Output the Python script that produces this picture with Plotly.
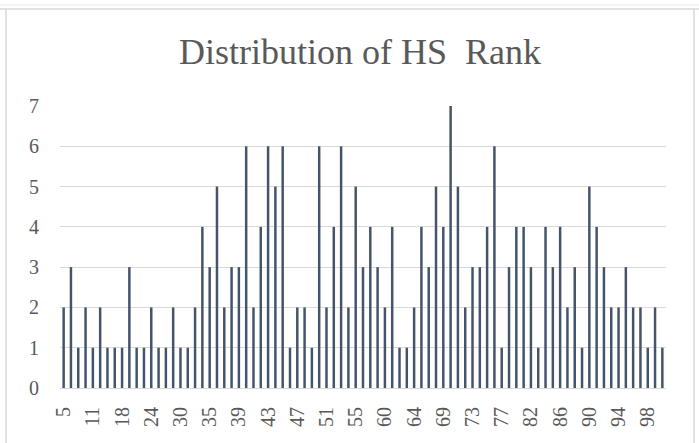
import plotly.graph_objects as go

hs_rank = [5, 6, 8, 9, 11, 13, 15, 16, 18, 19, 21, 22, 24, 25, 27, 28, 30,
           31, 32, 34, 35, 36, 37, 38, 39, 40, 41, 42, 43, 44, 45, 46, 47,
           48, 49, 50, 51, 52, 53, 54, 55, 56, 57, 59, 60, 61, 62, 63, 64,
           65, 66, 68, 69, 70, 71, 72, 73, 74, 75, 76, 77, 78, 80, 81, 82,
           83, 84, 85, 86, 87, 88, 89, 90, 91, 92, 93, 94, 95, 96, 97, 98,
           99, 100]
counts = [2, 3, 1, 2, 1, 2, 1, 1, 1, 3, 1, 1, 2, 1, 1, 2, 1, 1, 2, 4, 3,
          5, 2, 3, 3, 6, 2, 4, 6, 5, 6, 1, 2, 2, 1, 6, 2, 4, 6, 2, 5,
          3, 4, 3, 2, 4, 1, 1, 2, 4, 3, 5, 4, 7, 5, 2, 3, 3, 4, 6, 1, 3,
          4, 4, 3, 1, 4, 3, 4, 2, 3, 1, 5, 4, 3, 2, 2, 3, 2, 2, 1, 2, 1]
tick_labels = [str(v) for v in hs_rank[::4]]
y_ticks = [0, 1, 2, 3, 4, 5, 6, 7]

cats = [str(v) for v in hs_rank]

fig = go.Figure(go.Bar(x=cats, y=counts, marker=dict(color="#44546A", line=dict(width=0))))

W, H = 699, 443
L, R, T, B = 60, 33, 106, 55
pw, ph = W - L - R, H - T - B

def px_x(x):
    return (x - L) / pw

def px_y(y):
    return (H - B - y) / ph

SERIF = "Liberation Serif, DejaVu Serif, serif"

fig.update_layout(
    width=W, height=H,
    margin=dict(l=L, r=R, t=T, b=B, autoexpand=False),
    paper_bgcolor="white", plot_bgcolor="white",
    bargap=0.66,
    showlegend=False,
    font=dict(family=SERIF, color="#595959"),
    title=dict(text="Distribution of HS  Rank", x=360 / W, xanchor="center",
               y=1 - 51 / H, yanchor="middle",
               font=dict(size=36, color="#595959", family=SERIF)),
    xaxis=dict(type="category", tickmode="array", tickvals=tick_labels, ticktext=tick_labels,
               tickangle=-90, tickfont=dict(size=20, color="#595959"),
               showgrid=False, showline=True, linecolor="#d9d9d9", linewidth=1,
               ticks="", ticklen=0, ticklabelstandoff=10, automargin=False),
    yaxis=dict(range=[0, 7], tickvals=y_ticks, tickfont=dict(size=20, color="#595959"),
               showgrid=True, gridcolor="#d9d9d9", gridwidth=1, zeroline=False,
               showline=False, ticks="", ticklabelstandoff=20, automargin=False),
    shapes=[
        dict(type="line", xref="paper", yref="paper", x0=px_x(6), x1=px_x(6), y0=px_y(9), y1=px_y(450),
             line=dict(color="#d9d9d9", width=1.5)),
        dict(type="line", xref="paper", yref="paper", x0=px_x(694), x1=px_x(694), y0=px_y(9), y1=px_y(450),
             line=dict(color="#d9d9d9", width=1.5)),
        dict(type="line", xref="paper", yref="paper", x0=px_x(0), x1=px_x(699), y0=px_y(9), y1=px_y(9),
             line=dict(color="#d9d9d9", width=1.5)),
        dict(type="line", xref="paper", yref="paper", x0=px_x(0), x1=px_x(699), y0=px_y(5), y1=px_y(5),
             line=dict(color="#e6e6e6", width=1)),
    ],
)

fig.write_html("out.html", config={"displayModeBar": False},
               post_script="document.body.style.margin='0';document.body.style.overflow='hidden';")
